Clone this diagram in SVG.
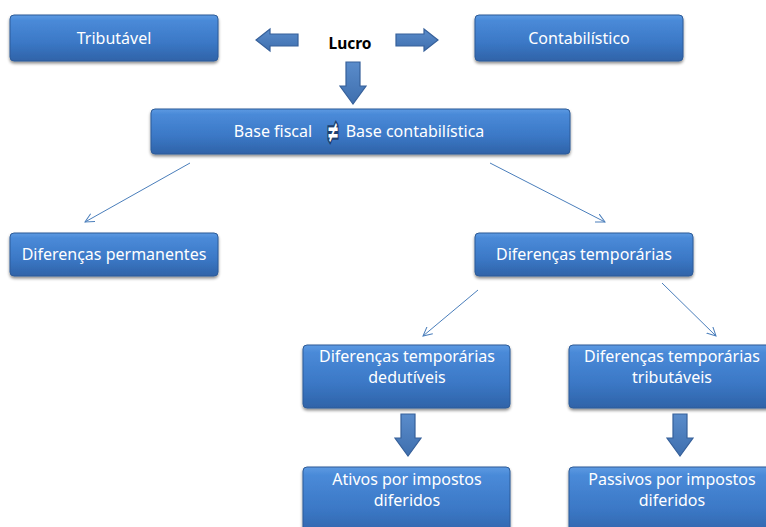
<svg xmlns="http://www.w3.org/2000/svg" width="766" height="527" viewBox="0 0 766 527">
<defs>
<linearGradient id="bx" x1="0" y1="0" x2="0" y2="1">
<stop offset="0" stop-color="#5d9ae2"/>
<stop offset="0.12" stop-color="#4a8ad8"/>
<stop offset="0.6" stop-color="#3b78c6"/>
<stop offset="1" stop-color="#2f63a8"/>
</linearGradient>
<linearGradient id="ar" x1="0" y1="0" x2="0" y2="1">
<stop offset="0" stop-color="#5a8ccb"/>
<stop offset="1" stop-color="#3f6fae"/>
</linearGradient>
<filter id="sh" x="-10%" y="-20%" width="120%" height="150%">
<feDropShadow dx="0" dy="2" stdDeviation="1.5" flood-color="#000" flood-opacity="0.45"/>
</filter>
<marker id="ah" viewBox="0 0 10 10" refX="9" refY="5" markerWidth="10" markerHeight="10" markerUnits="userSpaceOnUse" orient="auto">
<path d="M0,0.5 L9,5 L0,9.5" fill="none" stroke="#4a7ebb" stroke-width="1"/>
</marker>
</defs>
<style>
.box{fill:url(#bx);stroke:#2d5b98;stroke-width:1;filter:url(#sh)}
.t{font-family:"Noto Sans","Open Sans",sans-serif;font-size:16px;fill:#fff;text-anchor:middle}
.blk{fill:url(#ar);stroke:#36609a;stroke-width:1.2}
.ln{stroke:#4a7ebb;stroke-width:1;fill:none;marker-end:url(#ah)}
</style>
<rect width="766" height="527" fill="#fff"/>
<g id="connectors">
<path class="blk" d="M298,34 L270,34 L270,29 L256,40 L270,51 L270,46 L298,46 Z"/>
<path class="blk" d="M396,34 L424,34 L424,29 L438,40 L424,51 L424,46 L396,46 Z"/>
<path class="blk" d="M346,62 L360,62 L360,86 L366,86 L353,104 L340,86 L346,86 Z"/>
<path class="blk" d="M401,414 L415,414 L415,438 L421,438 L408,456 L395,438 L401,438 Z"/>
<path class="blk" d="M673,414 L687,414 L687,438 L693,438 L680,456 L667,438 L673,438 Z"/>
<line class="ln" x1="190" y1="163" x2="85" y2="222"/>
<line class="ln" x1="490" y1="163" x2="605" y2="222"/>
<line class="ln" x1="478" y1="290" x2="423" y2="336"/>
<line class="ln" x1="662" y1="283" x2="716" y2="336"/>
</g>
<g id="tributavel">
<rect class="box" x="10" y="15" width="208" height="46" rx="4"/>
<text class="t" x="114" y="44">Tributável</text>
</g>
<g id="lucro">
<text x="350" y="49" font-family="'Noto Sans','Open Sans',sans-serif" font-size="15.5" font-weight="bold" fill="#000" text-anchor="middle">Lucro</text>
</g>
<g id="contabilistico">
<rect class="box" x="475" y="15" width="208" height="46" rx="4"/>
<text class="t" x="579" y="44">Contabilístico</text>
</g>
<g id="base">
<rect class="box" x="151" y="109" width="419" height="45" rx="4"/>
<text class="t" x="273" y="137">Base fiscal</text>
<text transform="translate(333,142) scale(0.6,1.25)" font-family="'DejaVu Sans',sans-serif" font-size="24" font-weight="bold" fill="#fff" stroke="#1f3f6e" stroke-width="3.5" paint-order="stroke" text-anchor="middle">≠</text>
<text class="t" x="415" y="137">Base contabilística</text>
</g>
<g id="permanentes">
<rect class="box" x="10" y="233" width="208" height="43" rx="4"/>
<text class="t" x="114" y="260">Diferenças permanentes</text>
</g>
<g id="temporarias">
<rect class="box" x="475" y="233" width="218" height="43" rx="4"/>
<text class="t" x="584" y="260">Diferenças temporárias</text>
</g>
<g id="dedutiveis">
<rect class="box" x="303" y="345" width="207" height="63" rx="4"/>
<text class="t" x="407" y="362">Diferenças temporárias</text>
<text class="t" x="407" y="383">dedutíveis</text>
</g>
<g id="tributaveis">
<rect class="box" x="569" y="345" width="205" height="63" rx="4"/>
<text class="t" x="672" y="362">Diferenças temporárias</text>
<text class="t" x="672" y="383">tributáveis</text>
</g>
<g id="ativos">
<rect class="box" x="303" y="467" width="207" height="70" rx="4"/>
<text class="t" x="407" y="485">Ativos por impostos</text>
<text class="t" x="407" y="506">diferidos</text>
</g>
<g id="passivos">
<rect class="box" x="569" y="467" width="205" height="70" rx="4"/>
<text class="t" x="672" y="485">Passivos por impostos</text>
<text class="t" x="672" y="506">diferidos</text>
</g>
</svg>
